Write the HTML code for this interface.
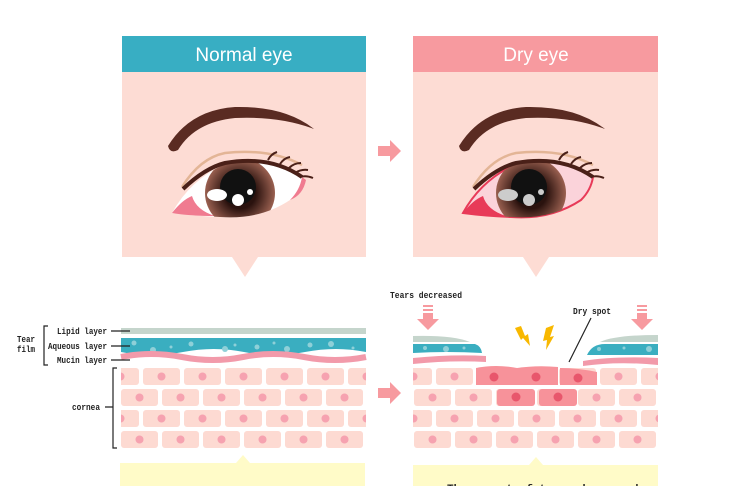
<!DOCTYPE html>
<html><head><meta charset="utf-8"><style>
html,body{margin:0;padding:0;background:#fff}
svg{display:block}
text{font-family:"Liberation Mono",monospace;font-weight:bold;font-size:9.5px;fill:#222}
</style></head><body>
<svg width="741" height="486" viewBox="0 0 741 486" xmlns="http://www.w3.org/2000/svg">
<defs>
<radialGradient id="ir" cx="0.5" cy="0.5" r="0.5">
<stop offset="0.45" stop-color="#2a120e"/><stop offset="1" stop-color="#9a6050"/></radialGradient>
<pattern id="cells" patternUnits="userSpaceOnUse" x="143" y="368" width="41" height="42">
<rect x="0" y="0" width="37" height="17" rx="3" fill="#fddad2"/>
<circle cx="18.5" cy="8.5" r="4" fill="#f6a2b0"/>
<rect x="-22" y="21" width="37" height="17" rx="3" fill="#fddad2"/>
<circle cx="-3.5" cy="29.5" r="4" fill="#f6a2b0"/>
<rect x="19" y="21" width="37" height="17" rx="3" fill="#fddad2"/>
<circle cx="37.5" cy="29.5" r="4" fill="#f6a2b0"/>
</pattern>
<pattern id="cells2" href="#cells" x="436" y="368"/>
<clipPath id="sc"><path d="M172,213 Q190,180 225,164 Q270,155 302,177 Q300,190 290,200 Q260,220 220,217 Q195,216 172,213Z"/></clipPath>
<g id="brow">
<path d="M168,146 Q190,110 235,107 Q285,106 314,129 Q280,116 235,118 Q195,122 178,150 Q170,154 168,146Z" fill="#5a2b22"/>
<path d="M182,187 Q200,158 225,153 Q270,148 302,165" fill="none" stroke="#e3b596" stroke-width="2.5"/>
</g>
<g id="iris">
<circle cx="240" cy="193" r="35" fill="url(#ir)"/>
<circle cx="238" cy="187" r="18" fill="#111"/>
</g>
<g id="lid">
<path d="M183,189 Q205,168 225,163 Q270,155 302,177" fill="none" stroke="#4a2018" stroke-width="4"/>
<path d="M268,160 q3,-6 9,-8 M280,164 q4,-6 10,-7 M289,168 q5,-5 12,-5 M295,173 q6,-4 13,-3 M300,177 q6,-2 13,1" stroke="#4a2018" stroke-width="2" fill="none"/>
</g>
</defs>

<!-- Normal panel -->
<rect x="122" y="36" width="244" height="36" fill="#38aec3"/>
<text x="244" y="61" text-anchor="middle" style="font-family:'Liberation Sans',sans-serif;font-weight:normal;font-size:19px;fill:#fff">Normal eye</text>
<rect x="122" y="72" width="244" height="185" fill="#fddcd4"/>
<path d="M232,257 L245,277 L258,257Z" fill="#fddcd4"/>
<use href="#brow"/>
<path d="M172,213 Q190,180 225,164 Q270,155 302,177 Q300,190 290,200 Q260,220 220,217 Q195,216 172,213Z" fill="#fff"/>
<path d="M172,213 Q182,200 192,196 Q196,210 215,216 Q190,216 172,213Z" fill="#f07b90"/>
<path d="M290,200 Q300,190 302,177 L306,180 Q303,195 290,200Z" fill="#f07b90"/>
<g clip-path="url(#sc)"><use href="#iris"/></g>
<ellipse cx="217" cy="195" rx="10" ry="6" fill="#fff"/>
<circle cx="238" cy="200" r="6" fill="#fff"/>
<circle cx="250" cy="192" r="3" fill="#fff"/>
<use href="#lid"/>

<!-- Dry panel -->
<rect x="413" y="36" width="245" height="36" fill="#f79a9f"/>
<text x="536" y="61" text-anchor="middle" style="font-family:'Liberation Sans',sans-serif;font-weight:normal;font-size:19px;fill:#fff">Dry eye</text>
<rect x="413" y="72" width="245" height="185" fill="#fddcd4"/>
<path d="M523,257 L536,277 L549,257Z" fill="#fddcd4"/>
<g transform="translate(291,0)">
<use href="#brow"/>
<path d="M172,213 Q190,180 225,164 Q270,155 302,177 Q300,190 290,200 Q260,220 220,217 Q195,216 172,213Z" fill="#fbd3da" stroke="#e83a58" stroke-width="2"/>
<path d="M172,213 Q182,200 192,196 Q196,210 215,216 Q190,216 172,213Z" fill="#e83a58"/>
<g clip-path="url(#sc)"><use href="#iris"/></g>
<ellipse cx="217" cy="195" rx="10" ry="6" fill="#ccc"/>
<circle cx="238" cy="200" r="6" fill="#ccc"/>
<circle cx="250" cy="192" r="3" fill="#ccc"/>
<use href="#lid"/>
</g>

<!-- middle arrows -->
<path d="M378,146 h12 v-6 l11,11 l-11,11 v-6 h-12z" fill="#f79a9f"/>
<path d="M378,388 h12 v-6 l11,11 l-11,11 v-6 h-12z" fill="#f79a9f"/>

<!-- Left layers -->
<rect x="121" y="328" width="245" height="6" fill="#c5d5cc"/>
<path d="M121,338 h245 v14 q-30,-6 -61,0 t-61,0 t-61,0 t-62,0z" fill="#3aaec0"/>
<g fill="#8fd0d8"><circle cx="134" cy="343" r="2.5"/><circle cx="153" cy="350" r="3"/><circle cx="171" cy="347" r="1.5"/><circle cx="191" cy="344" r="2.5"/><circle cx="225" cy="349" r="3"/><circle cx="235" cy="345" r="1.5"/><circle cx="257" cy="347" r="2.5"/><circle cx="274" cy="343" r="1.5"/><circle cx="287" cy="349" r="3"/><circle cx="310" cy="345" r="2.5"/><circle cx="331" cy="344" r="3"/><circle cx="353" cy="348" r="1.5"/></g>
<path d="M121,357 q30,-6 61,0 t61,0 t61,0 t62,0" fill="none" stroke="#f29aaa" stroke-width="6"/>
<rect x="121" y="368" width="245" height="80" fill="url(#cells)"/>
<rect x="120" y="463" width="245" height="23" fill="#fffbc8"/>
<path d="M236,463 L243,455 L250,463Z" fill="#fffbc8"/>

<text x="57" y="334" textLength="50" lengthAdjust="spacingAndGlyphs">Lipid layer</text>
<text x="48" y="349" textLength="59" lengthAdjust="spacingAndGlyphs">Aqueous layer</text>
<text x="57" y="363" textLength="50" lengthAdjust="spacingAndGlyphs">Mucin layer</text>
<text x="17" y="342" textLength="18" lengthAdjust="spacingAndGlyphs">Tear</text>
<text x="17" y="352" textLength="18" lengthAdjust="spacingAndGlyphs">film</text>
<text x="72" y="410" textLength="28" lengthAdjust="spacingAndGlyphs">cornea</text>
<g stroke="#222" stroke-width="1.2" fill="none">
<path d="M48,326 h-4 v39 h4"/>
<path d="M111,331 h19 M111,346 h19 M111,360 h19"/>
<path d="M117,368 h-4 v80 h4 M105,407 h8"/>
</g>

<!-- Right layers -->
<path d="M413,342 v-6 q40,-1 57,6z" fill="#c5d5cc"/>
<path d="M413,344 h62 q6,2 7,9 q-35,-2 -69,0z" fill="#3aaec0"/>
<path d="M413,358 q40,-4 73,-2 v6 q-35,-2 -73,2z" fill="#f29aaa"/>
<path d="M658,335 v7 h-58 q15,-7 58,-7z" fill="#c5d5cc"/>
<path d="M658,344 v11 h-71 q5,-11 18,-11z" fill="#3aaec0"/>
<path d="M658,358 v7 q-40,-4 -75,1 v-5 q30,-5 75,-3z" fill="#f29aaa"/>
<g fill="#8fd0d8"><circle cx="425" cy="348" r="2"/><circle cx="446" cy="349" r="3"/><circle cx="464" cy="348" r="1.5"/><circle cx="599" cy="349" r="2"/><circle cx="624" cy="348" r="1.5"/><circle cx="649" cy="349" r="3"/></g>
<rect x="413" y="368" width="245" height="80" fill="url(#cells2)"/>
<g fill="#f7929a"><path d="M476,368 q20,-4 41,0 v17 h-41z"/><path d="M517,368 q20,-3 41,-1 v18 h-41z"/><path d="M560,368 q18,0 37,4 v13 h-37z"/><rect x="497" y="389" width="38" height="17" rx="3"/><rect x="539" y="389" width="38" height="17" rx="3"/></g>
<g fill="#e8566c"><circle cx="494" cy="377" r="4.5"/><circle cx="536" cy="377" r="4.5"/><circle cx="578" cy="378" r="4.5"/><circle cx="516" cy="397" r="4.5"/><circle cx="558" cy="397" r="4.5"/></g>
<path d="M515,328 l6,-2 l4,10 l3,-2 l2,12 l-7,-8 l-2,2z" fill="#f8b800"/>
<path d="M546,328 l8,-3 l-4,12 l4,-1 l-8,14 l1,-10 l-4,1z" fill="#f8b800"/>
<path d="M569,362 l22,-44" stroke="#222" stroke-width="1.2"/>
<text x="573" y="314" textLength="38" lengthAdjust="spacingAndGlyphs">Dry spot</text>
<text x="390" y="298" textLength="72" lengthAdjust="spacingAndGlyphs">Tears decreased</text>
<g fill="#f79a9f"><rect x="423" y="305" width="10" height="2"/><rect x="423" y="309" width="10" height="2"/><path d="M423,313 h10 v6 h6 l-11,11 l-11,-11 h6z"/>
<rect x="637" y="305" width="10" height="2"/><rect x="637" y="309" width="10" height="2"/><path d="M637,313 h10 v6 h6 l-11,11 l-11,-11 h6z"/></g>
<rect x="413" y="465" width="245" height="21" fill="#fffbc8"/>
<path d="M529,465 L536,457 L543,465Z" fill="#fffbc8"/>
<text x="447" y="492" style="font-size:11px">The amount of tears decreased</text>
</svg>
</body></html>
